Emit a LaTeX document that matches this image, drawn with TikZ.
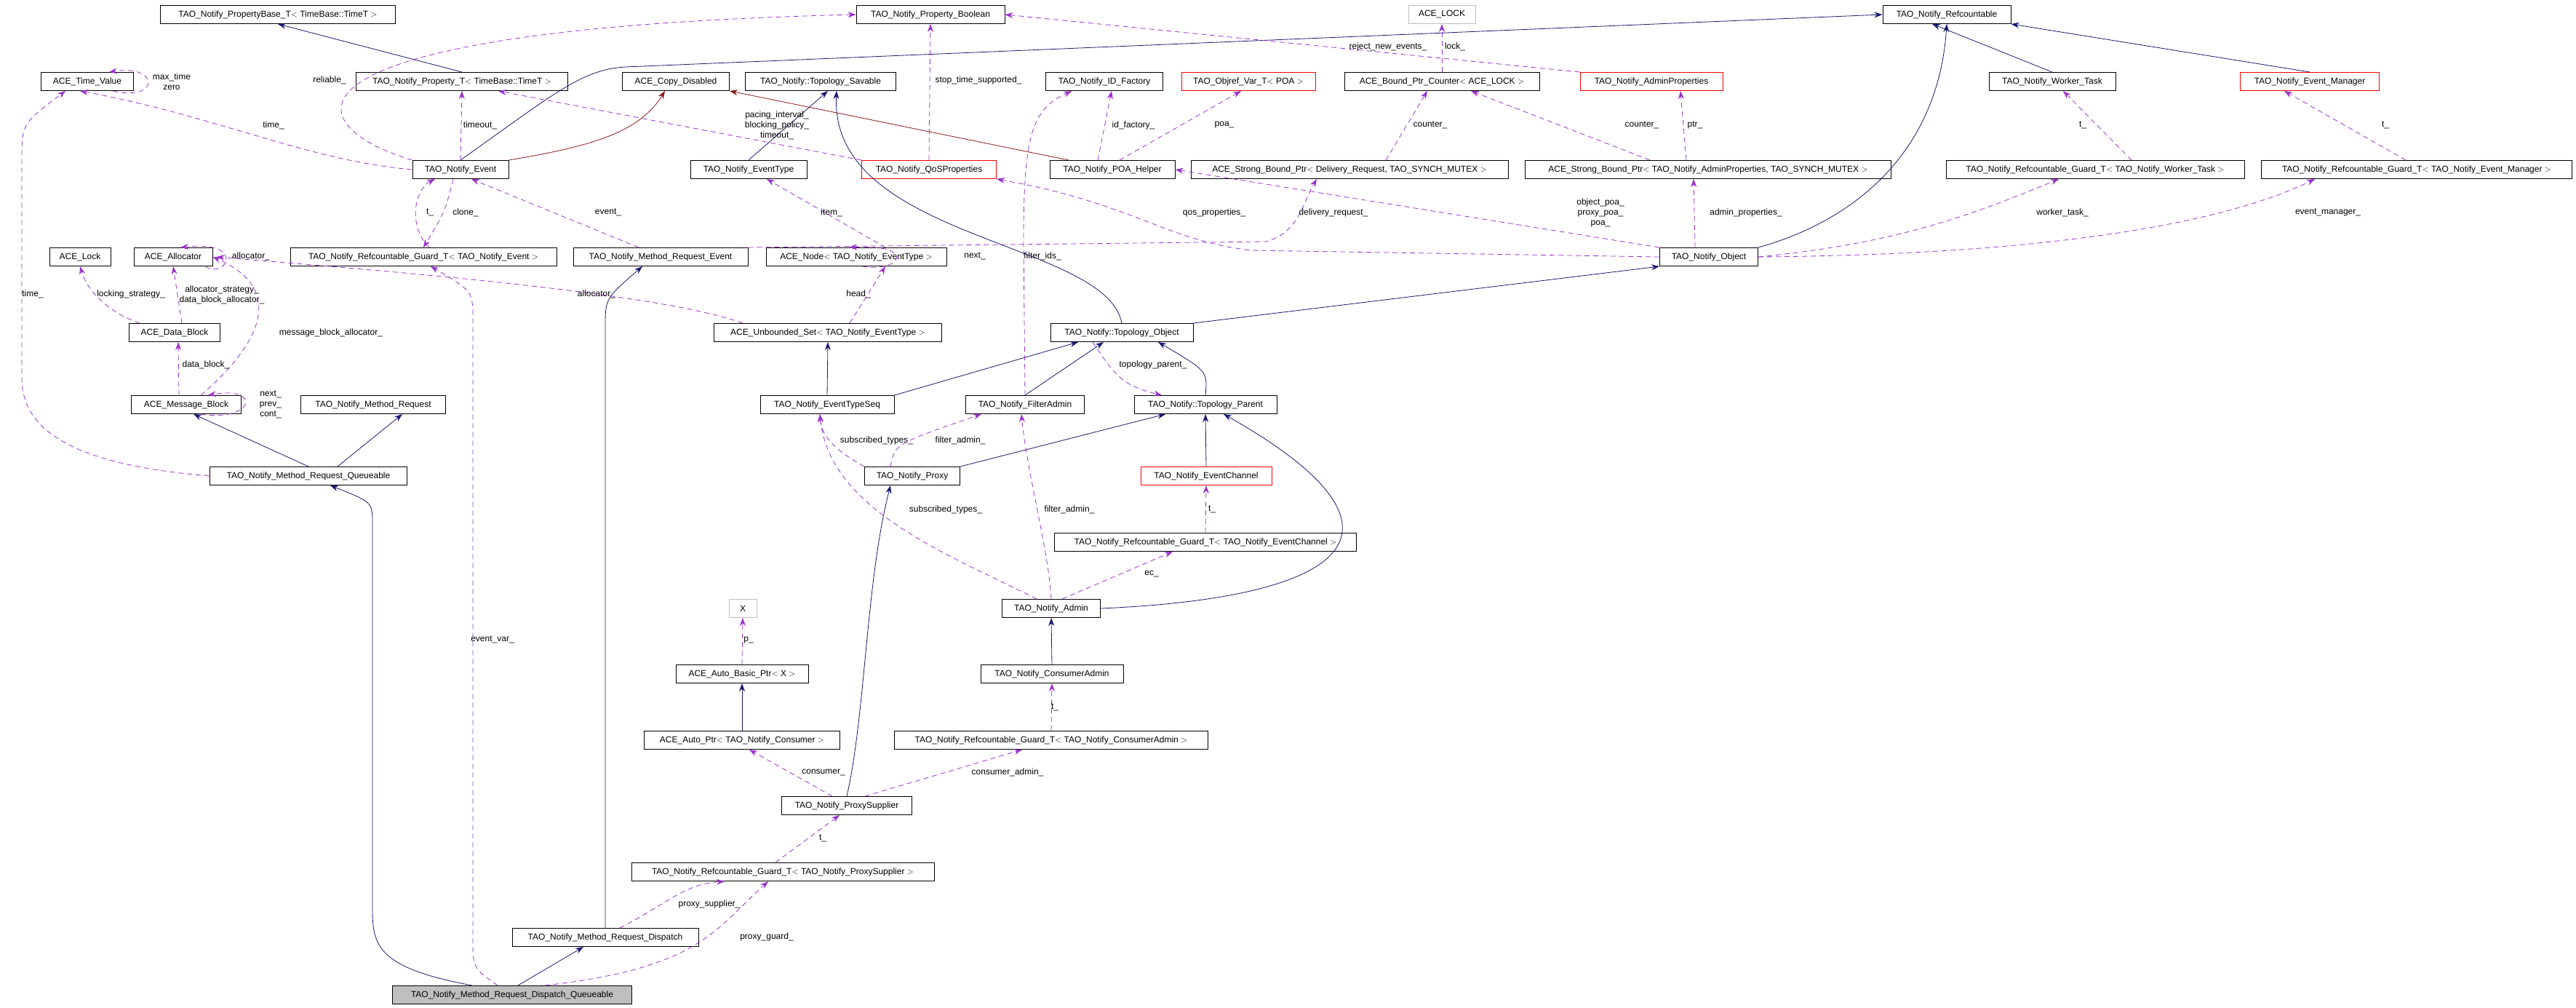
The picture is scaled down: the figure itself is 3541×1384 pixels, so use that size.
\documentclass[tikz,border=0pt]{standalone}
\usepackage{fontspec}
\setmainfont{Liberation Sans}
\usetikzlibrary{arrows.meta}
\definecolor{inhblue}{HTML}{191970}
\definecolor{usepurple}{HTML}{9A32CD}
\definecolor{privred}{HTML}{8B1A1A}
\definecolor{boxgray}{HTML}{BFBFBF}
\tikzset{
  cls/.style={draw=black, line width=1pt, minimum height=25pt, inner sep=2pt, font=\fontsize{12}{14}\selectfont},
  redcls/.style={cls, draw=red},
  graycls/.style={cls, draw=boxgray},
  lbl/.style={font=\fontsize{12}{14}\selectfont, align=center, inner sep=1pt},
  inh/.style={draw=inhblue, line width=0.8pt, -{Stealth[length=11pt,width=8pt]}},
  priv/.style={draw=privred, line width=0.8pt, -{Stealth[length=11pt,width=8pt]}},
  use/.style={draw=usepurple, line width=0.8pt, dash pattern=on 7pt off 5pt, -{Stealth[length=11pt,width=8pt,fill=usepurple]}}
}
\begin{document}
\begin{tikzpicture}[x=1pt,y=-1pt]
\useasboundingbox (0,0) rectangle (3541,1384);
% row 1
\node[cls, minimum width=323] (pbase) at (382,20) {TAO\_Notify\_PropertyBase\_T$<$ TimeBase::TimeT $>$};
\node[cls, minimum width=204] (pbool) at (1279,20) {TAO\_Notify\_Property\_Boolean};
\node[graycls, minimum width=92] (acelock) at (1982,20) {ACE\_LOCK};
\node[cls, minimum width=176] (refc) at (2676,20) {TAO\_Notify\_Refcountable};
% row 2
\node[cls, minimum width=127] (tval) at (120,112) {ACE\_Time\_Value};
\node[cls, minimum width=291] (propt) at (635,112) {TAO\_Notify\_Property\_T$<$ TimeBase::TimeT $>$};
\node[cls, minimum width=147] (copyd) at (929,112) {ACE\_Copy\_Disabled};
\node[cls, minimum width=207] (tsav) at (1128,112) {TAO\_Notify::Topology\_Savable};
\node[cls, minimum width=161] (idfac) at (1518,112) {TAO\_Notify\_ID\_Factory};
\node[redcls, minimum width=184] (objref) at (1716,112) {TAO\_Objref\_Var\_T$<$ POA $>$};
\node[cls, minimum width=268] (bpc) at (1982,112) {ACE\_Bound\_Ptr\_Counter$<$ ACE\_LOCK $>$};
\node[redcls, minimum width=196] (adminp) at (2270,112) {TAO\_Notify\_AdminProperties};
\node[cls, minimum width=174] (worker) at (2821,112) {TAO\_Notify\_Worker\_Task};
\node[redcls, minimum width=191] (evmgr) at (3175,112) {TAO\_Notify\_Event\_Manager};
% row 3
\node[cls, minimum width=132] (event) at (633,233) {TAO\_Notify\_Event};
\node[cls, minimum width=160] (etype) at (1029,233) {TAO\_Notify\_EventType};
\node[redcls, minimum width=185] (qos) at (1277,233) {TAO\_Notify\_QoSProperties};
\node[cls, minimum width=172] (poah) at (1529,233) {TAO\_Notify\_POA\_Helper};
\node[cls, minimum width=436] (sbpd) at (1855,233) {ACE\_Strong\_Bound\_Ptr$<$ Delivery\_Request, TAO\_SYNCH\_MUTEX $>$};
\node[cls, minimum width=503] (sbpa) at (2348,233) {ACE\_Strong\_Bound\_Ptr$<$ TAO\_Notify\_AdminProperties, TAO\_SYNCH\_MUTEX $>$};
\node[cls, minimum width=410] (rgwt) at (2880,233) {TAO\_Notify\_Refcountable\_Guard\_T$<$ TAO\_Notify\_Worker\_Task $>$};
\node[cls, minimum width=427] (rgem) at (3322,233) {TAO\_Notify\_Refcountable\_Guard\_T$<$ TAO\_Notify\_Event\_Manager $>$};
% row 4
\node[cls, minimum width=84] (acel) at (110,353) {ACE\_Lock};
\node[cls, minimum width=108] (alloc) at (238,353) {ACE\_Allocator};
\node[cls, minimum width=366] (rgev) at (582,353) {TAO\_Notify\_Refcountable\_Guard\_T$<$ TAO\_Notify\_Event $>$};
\node[cls, minimum width=240] (mrev) at (908,353) {TAO\_Notify\_Method\_Request\_Event};
\node[cls, minimum width=248] (anode) at (1177,353) {ACE\_Node$<$ TAO\_Notify\_EventType $>$};
\node[cls, minimum width=135] (nobj) at (2349,353) {TAO\_Notify\_Object};
% row 5
\node[cls, minimum width=125] (dblock) at (240,457) {ACE\_Data\_Block};
\node[cls, minimum width=313] (uset) at (1138,457) {ACE\_Unbounded\_Set$<$ TAO\_Notify\_EventType $>$};
\node[cls, minimum width=196] (topo) at (1542,457) {TAO\_Notify::Topology\_Object};
% row 6
\node[cls, minimum width=151] (mblock) at (256,556) {ACE\_Message\_Block};
\node[cls, minimum width=199] (mreq) at (513,556) {TAO\_Notify\_Method\_Request};
\node[cls, minimum width=184] (etseq) at (1137,556) {TAO\_Notify\_EventTypeSeq};
\node[cls, minimum width=163] (fadmin) at (1409,556) {TAO\_Notify\_FilterAdmin};
\node[cls, minimum width=196] (tparent) at (1657,556) {TAO\_Notify::Topology\_Parent};
% row 7
\node[cls, minimum width=271] (mrq) at (424,654) {TAO\_Notify\_Method\_Request\_Queueable};
\node[cls, minimum width=131] (proxy) at (1254,654) {TAO\_Notify\_Proxy};
\node[redcls, minimum width=180] (echan) at (1658,654) {TAO\_Notify\_EventChannel};
% lower part
\node[cls, minimum width=415] (rgec) at (1657,745) {TAO\_Notify\_Refcountable\_Guard\_T$<$ TAO\_Notify\_EventChannel $>$};
\node[graycls, minimum width=38] (xnode) at (1021,836) {X};
\node[cls, minimum width=135] (admin) at (1445,836) {TAO\_Notify\_Admin};
\node[cls, minimum width=182] (abp) at (1020,926) {ACE\_Auto\_Basic\_Ptr$<$ X $>$};
\node[cls, minimum width=196] (cadmin) at (1446,926) {TAO\_Notify\_ConsumerAdmin};
\node[cls, minimum width=269] (aptr) at (1020,1017) {ACE\_Auto\_Ptr$<$ TAO\_Notify\_Consumer $>$};
\node[cls, minimum width=431] (rgca) at (1445,1017) {TAO\_Notify\_Refcountable\_Guard\_T$<$ TAO\_Notify\_ConsumerAdmin $>$};
\node[cls, minimum width=179] (psup) at (1164,1107) {TAO\_Notify\_ProxySupplier};
\node[cls, minimum width=416] (rgps) at (1076,1198) {TAO\_Notify\_Refcountable\_Guard\_T$<$ TAO\_Notify\_ProxySupplier $>$};
\node[cls, minimum width=256] (mrd) at (832,1288) {TAO\_Notify\_Method\_Request\_Dispatch};
\node[cls, fill=boxgray, minimum width=329] (dq) at (704,1367) {TAO\_Notify\_Method\_Request\_Dispatch\_Queueable};

% inheritance
\draw[inh] (propt.north) -- (pbase.south);
\draw[inh] (event.north) .. controls (760,130) and (800,95) .. (860,92) -- (refc.west);
\draw[inh] (etype.north) -- ([xshift=10pt]tsav.south);
\draw[inh] (topo.north) .. controls (1520,330) and (1140,330) .. ([xshift=22pt]tsav.south);
\draw[inh] (nobj.north east) .. controls (2560,300) and (2665,200) .. (refc.south);
\draw[inh] (worker.north) -- ([xshift=-20pt]refc.south);
\draw[inh] (evmgr.north) -- (refc.south east);
\draw[inh] (topo.north east) -- (nobj.south west);
\draw[inh] (etseq.north) -- (uset.south);
\draw[inh] (etseq.north east) -- ([xshift=-60pt]topo.south);
\draw[inh] (fadmin.north) -- ([xshift=-25pt]topo.south);
\draw[inh] (tparent.north) .. controls (1660,510) .. ([xshift=50pt]topo.south);
\draw[inh] (proxy.north east) -- ([xshift=-55pt]tparent.south);
\draw[inh] (echan.north) -- (tparent.south);
\draw[inh] (admin.east) .. controls (1880,820) and (1950,720) .. ([xshift=25pt]tparent.south);
\draw[inh] (cadmin.north) -- (admin.south);
\draw[inh] (aptr.north) -- (abp.south);
\draw[inh] (psup.north) .. controls (1190,980) and (1190,800) .. ([xshift=-30pt]proxy.south);
\draw[inh] (mrq.north) -- ([xshift=10pt]mblock.south);
\draw[inh] ([xshift=40pt]mrq.north) -- ([xshift=40pt]mreq.south);
\draw[inh] ([xshift=-55pt]dq.north) .. controls (520,1330) and (512,1300) .. (512,1250) -- (512,720) .. controls (512,690) .. ([xshift=30pt]mrq.south);
\draw[inh] ([xshift=8pt]dq.north) -- ([xshift=-30pt]mrd.south);
\draw[inh] (mrd.north) -- (832,450) .. controls (832,410) .. ([xshift=-25pt]mrev.south);
\draw[priv] (event.north east) .. controls (820,200) and (880,180) .. ([xshift=-15pt]copyd.south);
\draw[priv] ([xshift=-60pt]poah.north) -- (copyd.south east);

% usage
\draw[use] ([xshift=35pt]tval.south) .. controls (220,140) and (220,88) .. ([xshift=30pt]tval.north);
\node[lbl] (lmax) at (236,112) {max\_time\\zero};
\draw[use] (event.west) .. controls (420,220) and (300,160) .. ([xshift=-10pt]tval.south);
\node[lbl] (ltime) at (376,172) {time\_};
\draw[use] (event.north west) .. controls (400,170) and (360,40) .. (pbool.west);
\node[lbl] (lrel) at (453,110) {reliable\_};
\draw[use] (event.north) -- (propt.south);
\node[lbl] (ltimeout) at (660,172) {timeout\_};
\draw[use] (qos.north west) -- ([xshift=50pt]propt.south);
\node[lbl] (lpacing) at (1068,172) {pacing\_interval\_\\blocking\_policy\_\\timeout\_};
\draw[use] (qos.north) -- (pbool.south);
\node[lbl] (lstop) at (1345,110) {stop\_time\_supported\_};
\draw[use] (adminp.north west) -- (pbool.east);
\node[lbl] (lreject) at (1908,64) {reject\_new\_events\_};
\draw[use] (bpc.north) -- (acelock.south);
\node[lbl] (llock) at (2000,64) {lock\_};
\draw[use] ([xshift=8pt]rgev.north) .. controls (560,310) and (570,260) .. ([xshift=-35pt]event.south);
\node[lbl] (lt1) at (591,292) {t\_};
\draw[use] ([xshift=-10pt]event.south) .. controls (612,290) .. ([xshift=0pt]rgev.north);
\node[lbl] (lclone) at (640,292) {clone\_};
\draw[use] ([xshift=-30pt]mrev.north) -- ([xshift=15pt]event.south);
\node[lbl] (levent) at (836,292) {event\_};
\draw[use] ([xshift=40pt]anode.north) -- ([xshift=25pt]etype.south);
\node[lbl] (litem) at (1143,292) {item\_};
\draw[use] ([xshift=8pt]anode.south) .. controls (1240,375) and (1260,335) .. ([xshift=-10pt]anode.north);
\node[lbl] (lnext) at (1340,352) {next\_};
\draw[use] (mrev.north east) -- (1740,332) .. controls (1785,320) and (1790,280) .. ([xshift=-45pt]sbpd.south);
\node[lbl] (ldeliv) at (1833,292) {delivery\_request\_};
\draw[use] (nobj.west) -- (1720,344) .. controls (1600,330) and (1560,280) .. (qos.south east);
\node[lbl] (lqos) at (1669,292) {qos\_properties\_};
\draw[use] ([xshift=15pt]dblock.north west) .. controls (150,430) and (120,400) .. (acel.south);
\node[lbl] (llocking) at (180,404) {locking\_strategy\_};
\draw[use] ([xshift=10pt]dblock.north) -- ([xshift=0pt]alloc.south);
\node[lbl] (lastrat) at (305,405) {allocator\_strategy\_\\data\_block\_allocator\_};
\draw[use] ([xshift=-10pt]alloc.south east) .. controls (310,385) and (340,330) .. ([xshift=10pt]alloc.north);
\node[lbl] (lalloc) at (345,352) {allocator\_};
\draw[use] ([xshift=20pt]mblock.north) .. controls (350,480) and (400,400) .. (alloc.east);
\node[lbl] (lmba) at (455,457) {message\_block\_allocator\_};
\draw[use] ([xshift=-10pt]mblock.north) -- ([xshift=5pt]dblock.south);
\node[lbl] (ldb) at (283,501) {data\_block\_};
\draw[use] ([xshift=20pt]mblock.south) .. controls (350,580) and (360,530) .. ([xshift=30pt]mblock.north);
\node[lbl] (lnpc) at (372,556) {next\_\\prev\_\\cont\_};
\draw[use] (mrq.west) .. controls (120,640) and (30,600) .. (30,520) -- (30,220) .. controls (30,170) .. ([xshift=-30pt]tval.south);
\node[lbl] (ltime2) at (45,404) {time\_};
\draw[use] ([xshift=40pt]uset.north west) .. controls (900,400) and (500,370) .. ([xshift=5pt]alloc.east);
\node[lbl] (lalloc2) at (820,404) {allocator\_};
\draw[use] ([xshift=30pt]uset.north) -- ([xshift=40pt]anode.south);
\node[lbl] (lhead) at (1180,404) {head\_};
\draw[use] ([xshift=-20pt]poah.north) -- ([xshift=10pt]idfac.south);
\node[lbl] (lidf) at (1558,172) {id\_factory\_};
\draw[use] ([xshift=10pt]poah.north) -- ([xshift=-10pt]objref.south);
\node[lbl] (lpoa) at (1683,172) {poa\_};
\draw[use] ([xshift=50pt]sbpd.north) -- ([xshift=-20pt]bpc.south);
\node[lbl] (lcnt1) at (1966,172) {counter\_};
\draw[use] ([xshift=-80pt]sbpa.north) -- ([xshift=40pt]bpc.south);
\node[lbl] (lcnt2) at (2257,172) {counter\_};
\draw[use] ([xshift=-30pt]sbpa.north) -- ([xshift=40pt]adminp.south);
\node[lbl] (lptr) at (2330,172) {ptr\_};
\draw[use] (nobj.north west) -- (poah.east);
\node[lbl] (lopoa) at (2200,292) {object\_poa\_\\proxy\_poa\_\\poa\_};
\draw[use] ([xshift=-19pt]nobj.north) -- ([xshift=-20pt]sbpa.south);
\node[lbl] (ladmp) at (2400,292) {admin\_properties\_};
\draw[use] (nobj.east) .. controls (2600,335) and (2700,300) .. ([xshift=-50pt]rgwt.south);
\node[lbl] (lwt) at (2835,292) {worker\_task\_};
\draw[use] (nobj.east) .. controls (2800,350) and (3050,310) .. ([xshift=-140pt]rgem.south);
\node[lbl] (lem) at (3200,292) {event\_manager\_};
\draw[use] ([xshift=50pt]rgwt.north) -- ([xshift=15pt]worker.south);
\node[lbl] (lt2) at (2863,172) {t\_};
\draw[use] ([xshift=-15pt]rgem.north) -- ([xshift=-35pt]evmgr.south);
\node[lbl] (lt3) at (3279,172) {t\_};
\draw[use] (fadmin.north) -- (1407,330) .. controls (1407,180) and (1420,150) .. ([xshift=-45pt]idfac.south);
\node[lbl] (lfids) at (1433,352) {filter\_ids\_};
\draw[use] ([xshift=-40pt]topo.south) .. controls (1535,520) and (1545,530) .. ([xshift=-60pt]tparent.north);
\node[lbl] (ltpar) at (1585,501) {topology\_parent\_};
\draw[use] (proxy.north west) .. controls (1170,630) and (1130,610) .. ([xshift=-10pt]etseq.south);
\node[lbl] (lsub1) at (1205,605) {subscribed\_types\_};
\draw[use] ([xshift=-30pt]proxy.north) .. controls (1230,610) .. ([xshift=-60pt]fadmin.south);
\node[lbl] (lfadm1) at (1320,605) {filter\_admin\_};
\draw[use] ([xshift=-20pt]admin.north) .. controls (1300,760) and (1140,700) .. ([xshift=-10pt]etseq.south);
\node[lbl] (lsub2) at (1300,700) {subscribed\_types\_};
\draw[use] (admin.north) .. controls (1442,760) and (1412,650) .. ([xshift=-5pt]fadmin.south);
\node[lbl] (lfadm2) at (1470,700) {filter\_admin\_};
\draw[use] ([xshift=15pt]admin.north) -- ([xshift=-45pt]rgec.south);
\node[lbl] (lec) at (1583,788) {ec\_};
\draw[use] (rgec.north) -- (echan.south);
\node[lbl] (lt4) at (1666,700) {t\_};
\draw[use] (abp.north) -- (xnode.south);
\node[lbl] (lp) at (1029,880) {p\_};
\draw[use] (rgca.north) -- (cadmin.south);
\node[lbl] (lt5) at (1450,972) {t\_};
\draw[use] ([xshift=-20pt]psup.north) -- ([xshift=10pt]aptr.south);
\node[lbl] (lcons) at (1132,1061) {consumer\_};
\draw[use] ([xshift=25pt]psup.north) -- ([xshift=-40pt]rgca.south);
\node[lbl] (lcadm) at (1385,1061) {consumer\_admin\_};
\draw[use] ([xshift=-10pt]rgps.north) -- ([xshift=-10pt]psup.south);
\node[lbl] (lt6) at (1131,1152) {t\_};
\draw[use] ([xshift=20pt]mrd.north) .. controls (920,1240) and (940,1215) .. ([xshift=-80pt]rgps.south);
\node[lbl] (lpsup) at (975,1242) {proxy\_supplier\_};
\draw[use] ([xshift=45pt]dq.north) .. controls (960,1330) and (980,1280) .. ([xshift=-20pt]rgps.south);
\node[lbl] (lpguard) at (1054,1287) {proxy\_guard\_};
\draw[use] ([xshift=-20pt]dq.north) .. controls (650,1330) .. (650,1290) -- (650,440) .. controls (650,400) .. ([xshift=10pt]rgev.south);
\node[lbl] (levar) at (677,879) {event\_var\_};
\end{tikzpicture}
\end{document}
